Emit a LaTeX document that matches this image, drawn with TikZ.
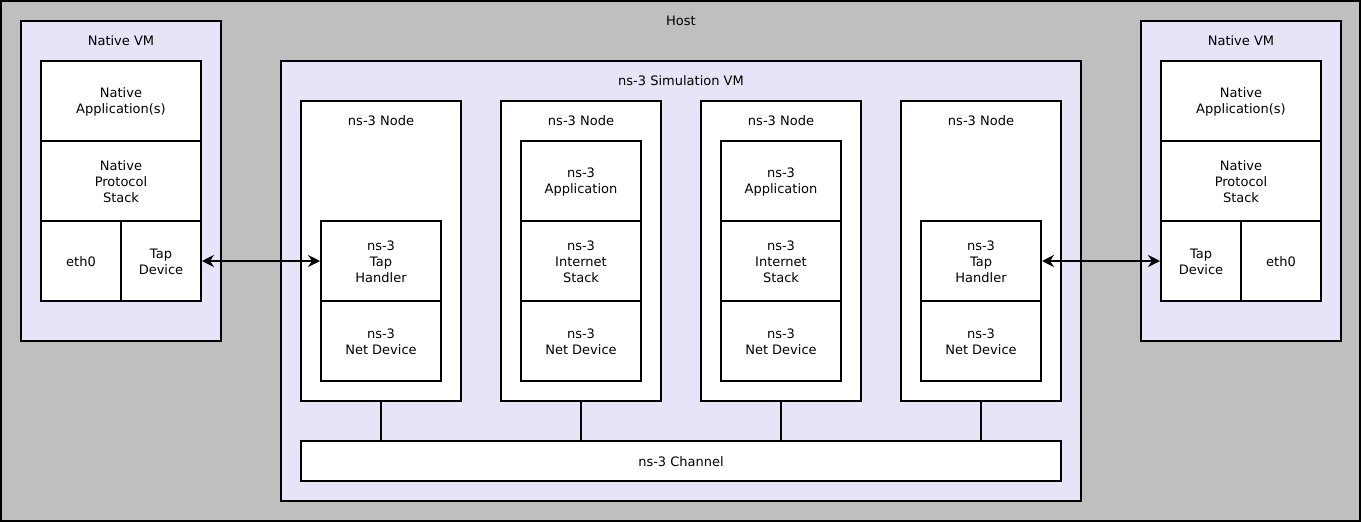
\documentclass[tikz,border=0pt]{standalone}
\usepackage{fontspec}
\setmainfont{DejaVu Sans}
\usetikzlibrary{fit,arrows.meta}
\definecolor{hostgray}{RGB}{191,191,191}
\definecolor{lav}{RGB}{229,229,247}
\newcommand\wb[3]{%
  \node[wbox, fit={#2}] (#1) {};
  \node[lbl] (#1-t) at ([yshift=-0.75pt]#1.center) {#3};}
\begin{document}
\begin{tikzpicture}[x=0.75pt,y=-0.75pt,
 every node/.style={font=\fontsize{9.75pt}{12pt}\selectfont, align=center},
 frame/.style={draw=black, line width=1.5pt, inner sep=0pt},
 hostbox/.style={frame, fill=hostgray},
 vmbox/.style={frame, fill=lav},
 wbox/.style={frame, fill=white},
 lbl/.style={inner sep=0pt},
 link/.style={line width=1.5pt},
 tap/.style={line width=1.5pt, {Stealth[length=9pt,width=9pt,inset=3pt]}-{Stealth[length=9pt,width=9pt,inset=3pt]}}
]
\useasboundingbox (0,0) rectangle (1361,522);
% Host
\node[hostbox, fit={(1,1) (1360,521)}] (host) {};
\node[lbl] (hostlbl) at (681,21) {Host};
% Left native VM
\node[vmbox, fit={(21,21) (221,341)}] (lvm) {};
\node[lbl] (lvmlbl) at (121,41) {Native VM};
\wb{lapp}{(41,61) (201,141)}{Native\\Application(s)}
\wb{lstack}{(41,141) (201,221)}{Native\\Protocol\\Stack}
\wb{leth}{(41,221) (121,301)}{eth0}
\wb{ltap}{(121,221) (201,301)}{Tap\\Device}
% Right native VM
\node[vmbox, fit={(1141,21) (1341,341)}] (rvm) {};
\node[lbl] (rvmlbl) at (1241,41) {Native VM};
\wb{rapp}{(1161,61) (1321,141)}{Native\\Application(s)}
\wb{rstack}{(1161,141) (1321,221)}{Native\\Protocol\\Stack}
\wb{rtap}{(1161,221) (1241,301)}{Tap\\Device}
\wb{reth}{(1241,221) (1321,301)}{eth0}
% ns-3 simulation VM
\node[vmbox, fit={(281,61) (1081,501)}] (sim) {};
\node[lbl] (simlbl) at (681,81) {ns-3 Simulation VM};
% Nodes
\node[wbox, fit={(301,101) (461,401)}] (n1) {};
\node[lbl] (n1lbl) at (381,121) {ns-3 Node};
\wb{th1}{(321,221) (441,301)}{ns-3\\Tap\\Handler}
\wb{nd1}{(321,301) (441,381)}{ns-3\\Net Device}

\node[wbox, fit={(501,101) (661,401)}] (n2) {};
\node[lbl] (n2lbl) at (581,121) {ns-3 Node};
\wb{ap2}{(521,141) (641,221)}{ns-3\\Application}
\wb{is2}{(521,221) (641,301)}{ns-3\\Internet\\Stack}
\wb{nd2}{(521,301) (641,381)}{ns-3\\Net Device}

\node[wbox, fit={(701,101) (861,401)}] (n3) {};
\node[lbl] (n3lbl) at (781,121) {ns-3 Node};
\wb{ap3}{(721,141) (841,221)}{ns-3\\Application}
\wb{is3}{(721,221) (841,301)}{ns-3\\Internet\\Stack}
\wb{nd3}{(721,301) (841,381)}{ns-3\\Net Device}

\node[wbox, fit={(901,101) (1061,401)}] (n4) {};
\node[lbl] (n4lbl) at (981,121) {ns-3 Node};
\wb{th4}{(921,221) (1041,301)}{ns-3\\Tap\\Handler}
\wb{nd4}{(921,301) (1041,381)}{ns-3\\Net Device}
% Channel
\wb{ch}{(301,441) (1061,481)}{ns-3 Channel}
\foreach \n in {n1,n2,n3,n4}{
  \draw[link] (\n.south) -- (ch.north -| \n.south);
}
% Tap links
\draw[tap] (ltap.east) -- (th1.west);
\draw[tap] (th4.east) -- (rtap.west);
\end{tikzpicture}
\end{document}
